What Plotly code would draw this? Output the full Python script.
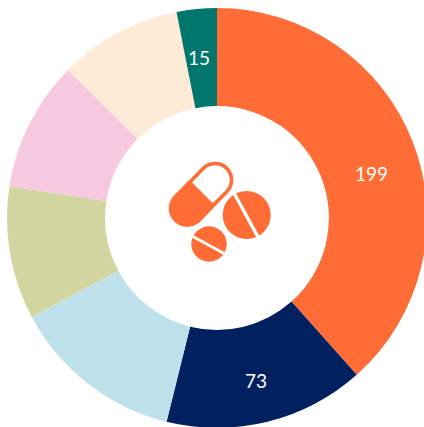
import numpy as np
import plotly.graph_objects as go

slice_sizes = [199, 80, 69, 53, 52, 49, 16]
slice_labels = ["199", "73", "", "", "", "", "15"]
slice_names = ["A", "B", "C", "D", "E", "F", "G"]
slice_colors = ["#FF6C36", "#002060", "#BEE0EB", "#D3D5A0", "#F6C9E0", "#FDEBD8", "#00766C"]

W, H = 434, 436
ORANGE = "#FF6C36"


def px(x):
    return x / W


def py(y):
    return 1 - y / H


def poly(points):
    return "M" + "L".join(f"{px(x):.5f},{py(y):.5f}" for x, y in points) + "Z"


def circle(cx, cy, r, fill):
    return dict(type="circle", xref="paper", yref="paper", x0=px(cx - r), x1=px(cx + r),
                y0=py(cy + r), y1=py(cy - r), fillcolor=fill, line=dict(width=0))


def stripe(x0, y0, x1, y1, width):
    return dict(type="line", xref="paper", yref="paper", x0=px(x0), y0=py(y0), x1=px(x1), y1=py(y1),
                line=dict(color="white", width=width))


def half_capsule(cx, cy, r, direction):
    a = np.radians(direction)
    angles = np.linspace(a - np.pi / 2, a + np.pi / 2, 40)
    pts = [(cx + r * np.cos(t), cy + r * np.sin(t)) for t in angles]
    mx, my = (187.3 + 215) / 2, (208.3 + 180) / 2
    nx, ny = np.cos(a + np.pi / 2), np.sin(a + np.pi / 2)
    pts += [(mx + r * nx, my + r * ny), (mx - r * nx, my - r * ny)]
    return pts


shapes = [
    dict(type="path", xref="paper", yref="paper", path=poly(half_capsule(215, 180, 16.5, -45)),
         fillcolor="white", line=dict(color=ORANGE, width=3.6)),
    dict(type="path", xref="paper", yref="paper", path=poly(half_capsule(187.3, 208.3, 18.5, 135)),
         fillcolor=ORANGE, line=dict(width=0)),
    circle(246.7, 215, 24, ORANGE),
    stripe(234, 193, 258, 237, 3.4),
    circle(209, 244, 17.7, ORANGE),
    stripe(191, 235.5, 226, 254.5, 2.6),
]

label_spots = {"199": (371, 173), "73": (256, 380), "15": (199, 57)}
annotations = [
    dict(text=t, xref="paper", yref="paper", x=px(label_spots[t][0]), y=py(label_spots[t][1]),
         xanchor="center", yanchor="middle", showarrow=False,
         font=dict(family="Lato, sans-serif", size=19, color="white"))
    for t in slice_labels if t
]

fig = go.Figure(go.Pie(
    labels=slice_names,
    values=slice_sizes,
    textinfo="none",
    marker=dict(colors=slice_colors, line=dict(width=0)),
    sort=False,
    direction="clockwise",
    rotation=0,
    hole=0.533,
    domain=dict(x=[7 / W, 427 / W], y=[1 - 428 / H, 1 - 8 / H]),
    showlegend=False,
))
fig.update_layout(width=W, height=H, margin=dict(l=0, r=0, t=0, b=0),
                  paper_bgcolor="white", shapes=shapes, annotations=annotations)
fig.write_html("out.html", config=dict(displayModeBar=False),
               post_script="document.body.style.margin='0';document.body.style.overflow='hidden';document.documentElement.style.overflow='hidden';")
